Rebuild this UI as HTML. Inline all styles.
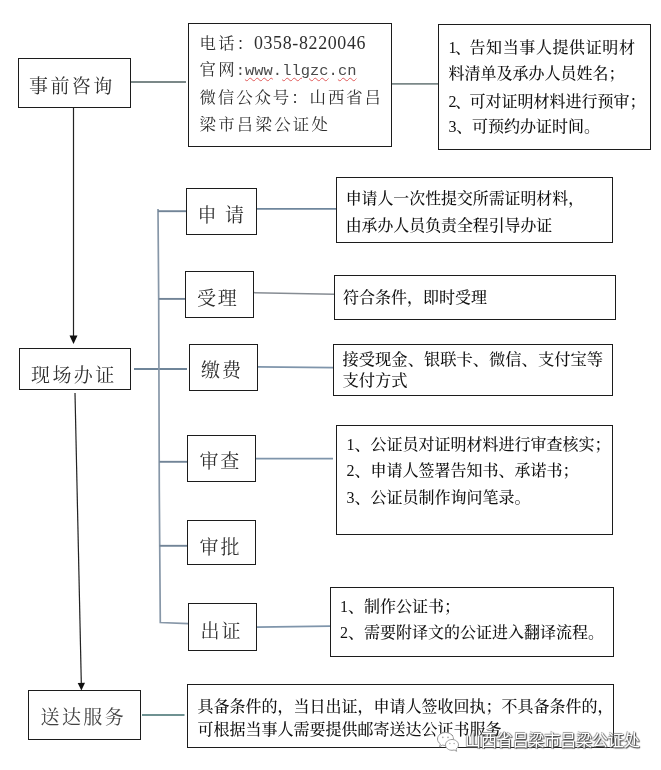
<!DOCTYPE html>
<html lang="zh-CN">
<head>
<meta charset="utf-8">
<title>公证办理流程</title>
<style>
html,body{margin:0;padding:0;background:#fff;}
body{-webkit-font-smoothing:antialiased;width:661px;height:770px;position:relative;overflow:hidden;font-family:"Liberation Serif","Noto Serif CJK SC",serif;color:#222;}
svg.lines{position:absolute;left:0;top:0;width:661px;height:770px;}
.b{position:absolute;box-sizing:border-box;border:1px solid #1c1c1c;background:#fff;will-change:transform;}
.k{font-size:19px;line-height:24px;font-weight:400;color:#2e2e2e;letter-spacing:2.4px;white-space:nowrap;}
.k span{position:absolute;display:block;}
.t{font-size:16px;line-height:27px;color:#111;white-space:nowrap;font-weight:500;}
.t p{margin:0;}
.t .n{letter-spacing:-1.5px;}
.info{font-size:16.4px;font-weight:400;color:#2e2e2e;letter-spacing:2.27px;line-height:26.7px;white-space:nowrap;}
.info p{margin:0;position:absolute;left:10.5px;height:26px;line-height:26px;}
.info .d{font-family:"Liberation Serif",serif;font-size:17.9px;letter-spacing:0.66px;line-height:20px;vertical-align:baseline;}
.info .m{font-family:"Liberation Mono",monospace;font-size:15.4px;letter-spacing:0.06px;line-height:20px;color:#4a4a4a;}
.w{text-decoration:underline wavy #e05a5a;text-decoration-thickness:0.8px;text-underline-offset:2px;}
.wm{position:absolute;left:464.5px;top:729px;font-family:"Liberation Sans","Noto Sans CJK SC",sans-serif;font-size:15.9px;line-height:24px;color:#fff;white-space:nowrap;text-shadow:1px 1px 1px #444,-0.6px -0.6px 0.8px #999,1px -0.5px 1px #888,-0.5px 1px 1px #777;will-change:transform;}
</style>
</head>
<body>
<svg class="lines" viewBox="0 0 661 770">
  <g stroke="#78898f" stroke-width="1.8" fill="none">
    <line x1="131" y1="82" x2="186" y2="82" stroke="#7b8888"/>
    <line x1="392" y1="83.8" x2="439" y2="83.8" stroke="#7b8888"/>
    <line x1="134" y1="369" x2="187" y2="369" stroke="#6f8599"/>
    <line x1="142" y1="715" x2="184.5" y2="715" stroke="#6f9292" stroke-width="2"/>
  </g>
  <g stroke="#8797a8" stroke-width="1.7" fill="none">
    <polyline points="158,209 158.7,300 159.3,490 160.3,622.5 188.2,623.7"/>
  </g>
  <g stroke="#728497" stroke-width="1.9" fill="none">
    <line x1="158" y1="211.2" x2="186.5" y2="211.2"/>
    <line x1="158.7" y1="298.9" x2="185.6" y2="298.9"/>
    <line x1="159.3" y1="461.8" x2="187.5" y2="461.8"/>
    <line x1="159.5" y1="545.8" x2="187.2" y2="545.8"/>
  </g>
  <g stroke="#7f95ab" stroke-width="1.7" fill="none">
    <line x1="255.5" y1="208.9" x2="336.5" y2="208.9" stroke="#6f869c"/>
    <line x1="252.5" y1="292.6" x2="334.3" y2="294.2" stroke="#868c93" stroke-width="1.5"/>
    <line x1="257.7" y1="366.8" x2="333" y2="367.6"/>
    <line x1="255.8" y1="458.6" x2="333" y2="458.6"/>
    <line x1="256.6" y1="627.2" x2="330" y2="626.1"/>
  </g>
  <g stroke="#222" stroke-width="1.2" fill="none">
    <line x1="73.5" y1="108" x2="73.5" y2="337"/>
    <line x1="75" y1="393" x2="81.3" y2="683"/>
  </g>
  <polygon points="69.5,335.4 77.5,335.4 73.5,344" fill="#111"/>
  <polygon points="77.7,683 85,682.8 81.4,690.6" fill="#111"/>
</svg>

<div class="b k" style="left:18px;top:58px;width:113px;height:50px;"><span id="k1" style="left:10px;top:16px;">事前咨询</span></div>
<div class="b k" style="left:19px;top:348px;width:112px;height:42px;"><span id="k2" style="left:11px;top:14.5px;">现场办证</span></div>
<div class="b k" style="left:28px;top:690px;width:113px;height:50px;"><span id="k3" style="left:11.5px;top:15px;color:#444;">送达服务</span></div>

<div class="b k" style="left:186px;top:188px;width:71px;height:47px;"><span id="k4" style="left:10.5px;top:15px;letter-spacing:8.5px;">申请</span></div>
<div class="b k" style="left:185px;top:271px;width:69px;height:47px;"><span id="k5" style="left:11px;top:15px;letter-spacing:1.8px;">受理</span></div>
<div class="b k" style="left:189px;top:344px;width:69px;height:47px;"><span id="k6" style="left:11px;top:14px;letter-spacing:2px;">缴费</span></div>
<div class="b k" style="left:187px;top:435px;width:69px;height:47px;"><span id="k7" style="left:11.5px;top:14px;letter-spacing:1.8px;">审查</span></div>
<div class="b k" style="left:187px;top:520px;width:69px;height:45px;"><span id="k8" style="left:11.5px;top:14.5px;letter-spacing:2px;">审批</span></div>
<div class="b k" style="left:188px;top:603px;width:69px;height:48px;"><span id="k9" style="left:11.5px;top:15.5px;letter-spacing:2px;">出证</span></div>

<div class="b info" style="left:188px;top:23px;width:204px;height:124px;">
  <p style="top:6.7px;">电话：<span class="d" style="margin-left:-1.6px;">0358-8220046</span></p>
  <p style="top:32.8px;">官网<span class="m" style="margin-left:-1.2px;">:<span class="w">www</span>.<span class="w">llgzc</span>.<span class="w">cn</span></span></p>
  <p style="top:60.6px;letter-spacing:1.95px;">微信公众号：山西省吕</p>
  <p style="top:87.5px;">梁市吕梁公证处</p>
</div>

<div class="b t" style="left:438px;top:24px;width:213px;height:126px;padding:9.5px 0 0 9.5px;line-height:26.5px;">
  <p style="letter-spacing:0.6px;"><span class="n">1、</span>告知当事人提供证明材</p>
  <p>料清单及承办人员姓名；</p>
  <p style="padding-top:1px"><span class="n">2、</span>可对证明材料进行预审；</p>
  <p style="margin-top:-1px"><span class="n" style="letter-spacing:-0.3px">3、</span>可预约办证时间。</p>
</div>

<div class="b t" style="left:336px;top:177px;width:277px;height:66px;padding:6.8px 0 0 8.7px;line-height:27.6px;font-size:15.9px;">
  <p>申请人一次性提交所需证明材料，</p>
  <p>由承办人员负责全程引导办证</p>
</div>

<div class="b t" style="left:334px;top:275px;width:282px;height:45px;padding:7.5px 0 0 8px;">
  <p>符合条件，即时受理</p>
</div>

<div class="b t" style="left:333px;top:344px;width:280px;height:52px;padding:4.2px 0 0 8.5px;line-height:21px;font-size:16.3px;">
  <p>接受现金、银联卡、微信、支付宝等</p>
  <p>支付方式</p>
</div>

<div class="b t" style="left:336px;top:425px;width:277px;height:110px;padding:5.8px 0 0 9.5px;line-height:26.6px;">
  <p>1、公证员对证明材料进行审查核实；</p>
  <p>2、申请人签署告知书、承诺书；</p>
  <p>3、公证员制作询问笔录。</p>
</div>

<div class="b t" style="left:330px;top:587px;width:284px;height:70px;padding:5.5px 0 0 9px;line-height:26px;">
  <p>1、制作公证书；</p>
  <p>2、需要附译文的公证进入翻译流程。</p>
</div>

<div class="b t" style="left:187px;top:684px;width:427px;height:64px;padding:9.5px 0 0 9.5px;line-height:23.8px;font-size:16px;">
  <p>具备条件的，当日出证，申请人签收回执；不具备条件的，</p>
  <p>可根据当事人需要提供邮寄送达公证书服务。</p>
</div>

<svg style="position:absolute;left:435px;top:729px;width:26px;height:26px;" viewBox="0 0 26 26">
  <g fill="#fff" stroke="#9a9a9a" stroke-width="1">
    <path d="M10.5 3.5c-4.4 0-8 2.9-8 6.5 0 2 1.100 3.800 2.900 5l-.9 2.700 3.100-1.600c.9.300 1.900.400 2.900.400 4.400 0 8-2.900 8-6.500s-3.600-6.500-8-6.500z"/>
    <path d="M17 10.500c-3.600 0-6.500 2.400-6.500 5.400s2.900 5.400 6.500 5.400c.8 0 1.500-.1 2.200-.3l2.500 1.300-.7-2.200c1.500-1 2.500-2.500 2.500-4.200 0-3-2.900-5.400-6.500-5.400z"/>
  </g>
  <g fill="#aaa"><circle cx="7.800" cy="8.300" r="0.900"/><circle cx="13" cy="8.300" r="0.900"/><circle cx="14.900" cy="14.600" r="0.750"/><circle cx="19.100" cy="14.600" r="0.750"/></g>
</svg>
<div class="wm">山西省吕梁市吕梁公证处</div>
</body>
</html>
